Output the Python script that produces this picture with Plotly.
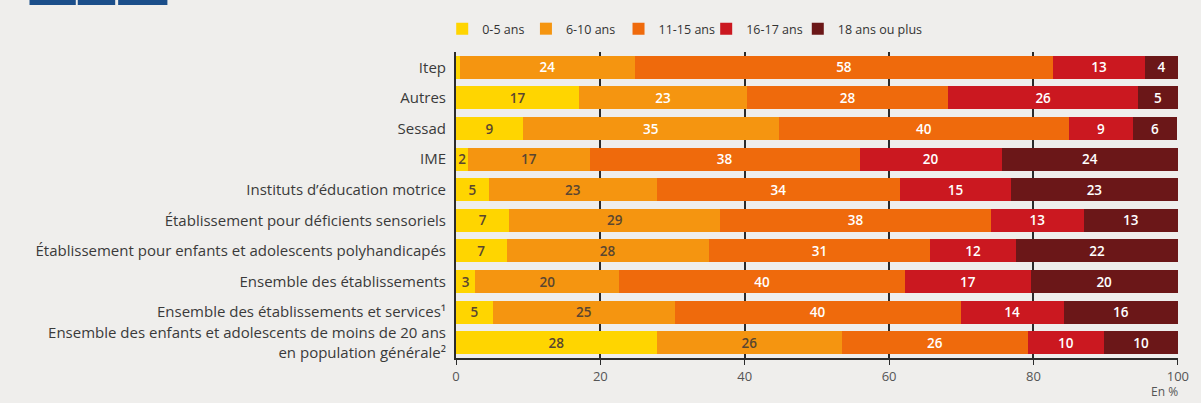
import plotly.graph_objects as go

categories = [
    "Itep",
    "Autres",
    "Sessad",
    "IME",
    "Instituts d’éducation motrice",
    "Établissement pour déficients sensoriels",
    "Établissement pour enfants et adolescents polyhandicapés",
    "Ensemble des établissements",
    "Ensemble des établissements et services¹",
    "Ensemble des enfants et adolescents de moins de 20 ans<br>en population générale²",
]

series_names = ["0-5 ans", "6-10 ans", "11-15 ans", "16-17 ans", "18 ans ou plus"]

# Shares (%)
age_0_5 = [0.5, 17.1, 9.3, 1.7, 4.6, 7.4, 7.0, 2.7, 5.1, 27.8]
age_6_10 = [24.3, 23.2, 35.4, 16.8, 23.2, 29.2, 28.0, 19.9, 25.2, 25.7]
age_11_15 = [57.9, 27.9, 40.2, 37.4, 33.7, 37.5, 30.7, 39.6, 39.6, 25.7]
age_16_17 = [12.8, 26.3, 8.9, 19.7, 15.4, 12.9, 11.9, 17.4, 14.3, 10.6]
age_18_plus = [4.5, 5.5, 6.1, 24.4, 23.1, 13.0, 22.4, 20.4, 15.8, 10.2]

# Printed labels
lab_0_5 = ["", "17", "9", "2", "5", "7", "7", "3", "5", "28"]
lab_6_10 = ["24", "23", "35", "17", "23", "29", "28", "20", "25", "26"]
lab_11_15 = ["58", "28", "40", "38", "34", "38", "31", "40", "40", "26"]
lab_16_17 = ["13", "26", "9", "20", "15", "13", "12", "17", "14", "10"]
lab_18_plus = ["4", "5", "6", "24", "23", "13", "22", "20", "16", "10"]

x_ticks = [0, 20, 40, 60, 80, 100]

colors = ["#FFD500", "#F59510", "#EF6A0C", "#CB1820", "#6B1718"]
dark = "#5a4630"
white = "#FFFFFF"
text_colors = [
    [dark] * 10,
    [white, white, white] + [dark] * 7,
    [white] * 10,
    [white] * 10,
    [white] * 10,
]

values = [age_0_5, age_6_10, age_11_15, age_16_17, age_18_plus]
labels = [lab_0_5, lab_6_10, lab_11_15, lab_16_17, lab_18_plus]

FONT = "Open Sans"

# legend entry square positions (pixels) -> one legend box per series
legend_px = [458, 543, 637, 726, 819]
legend_ids = ["legend", "legend2", "legend3", "legend4", "legend5"]

fig = go.Figure()
for name, vals, labs, col, tcol, lid in zip(series_names, values, labels, colors, text_colors, legend_ids):
    fig.add_trace(go.Bar(
        y=categories,
        x=vals,
        name=name,
        orientation="h",
        marker=dict(color=col, line=dict(width=0)),
        text=labs,
        textposition="inside",
        insidetextanchor="middle",
        constraintext="none",
        textangle=0,
        textfont=dict(family=FONT, size=13.5, color=tcol, weight=600),
        cliponaxis=False,
        hoverinfo="skip",
        legend=lid,
    ))

legend_common = dict(
    orientation="h",
    xanchor="left",
    y=1.075, yanchor="middle",
    font=dict(family=FONT, size=12.5, color="#333333"),
    itemwidth=30,
    bgcolor="rgba(0,0,0,0)",
)
legend_layout = {}
for lid, px in zip(legend_ids, legend_px):
    legend_layout[lid] = dict(legend_common, x=(px - 16 - 456) / 733)

fig.update_layout(
    barmode="stack",
    bargap=0.25,
    width=1201,
    height=403,
    margin=dict(l=456, r=12, t=52, b=45),
    paper_bgcolor="#EFEEEC",
    plot_bgcolor="#EFEEEC",
    font=dict(family=FONT, size=13, color="#3a3a3a"),
    showlegend=True,
    uniformtext=dict(mode=False),
    **legend_layout,
)

fig.update_xaxes(
    range=[0, 100.02],
    tickvals=x_ticks,
    ticktext=[str(t) for t in x_ticks],
    showgrid=True,
    gridcolor="#2b2b2b",
    gridwidth=1.5,
    zeroline=False,
    showline=True,
    linecolor="#2b2b2b",
    linewidth=2,
    ticks="outside",
    ticklen=5,
    tickcolor="#2b2b2b",
    tickfont=dict(family=FONT, size=13, color="#555555"),
    fixedrange=True,
)
fig.update_yaxes(
    autorange="reversed",
    showgrid=False,
    showline=True,
    linecolor="#2b2b2b",
    linewidth=2,
    ticks="",
    ticklabelstandoff=5,
    tickfont=dict(family=FONT, size=15, color="#3a3a3a"),
    fixedrange=True,
)

fig.add_annotation(
    text="En %", xref="paper", yref="paper", x=1.003, y=-(402 - 358) / 306,
    xanchor="right", yanchor="bottom", showarrow=False,
    font=dict(family=FONT, size=12, color="#555555"),
)

# header blocks (cut at the top of the crop)
for x0, x1 in [(23, 70), (72, 110), (113, 163)]:
    fig.add_shape(
        type="rect", xref="paper", yref="paper",
        x0=(x0 - 456) / 733, x1=(x1 - 456) / 733,
        y0=1 + 47 / 306, y1=1 + 60 / 306,
        fillcolor="#1B4E8A", line=dict(width=0), layer="above",
    )

fig.write_html(
    "out.html",
    config={"displayModeBar": False},
    post_script="document.body.style.margin='0';document.body.style.overflow='hidden';",
)
